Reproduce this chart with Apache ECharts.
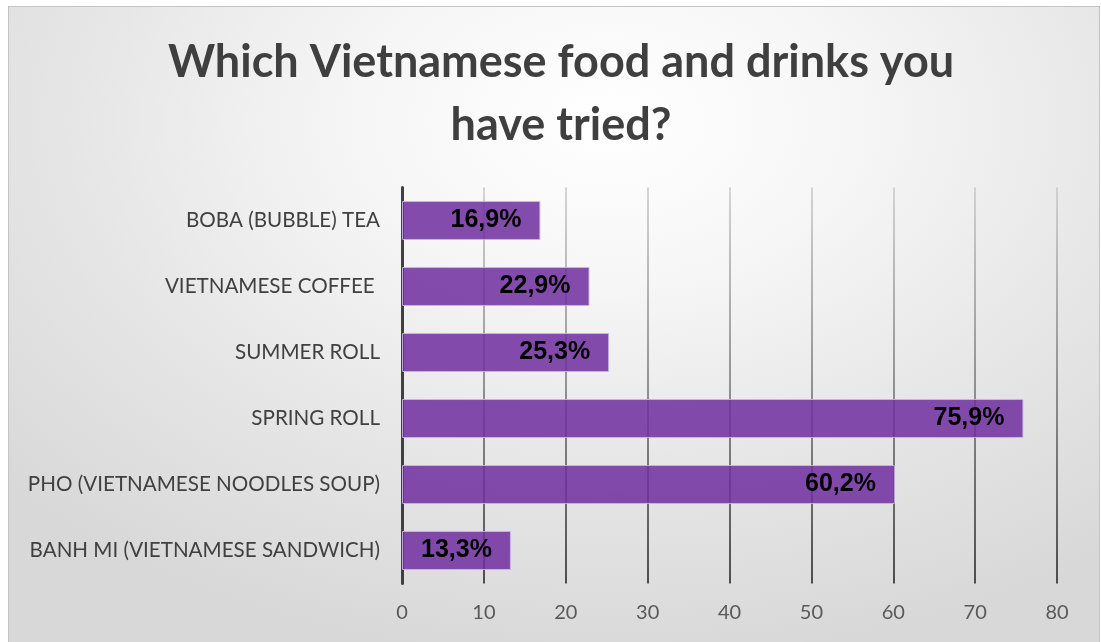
<!DOCTYPE html>
<html>
<head>
<meta charset="utf-8">
<script src="https://cdn.jsdelivr.net/npm/echarts@6/dist/echarts.min.js"></script>
<style>
  html, body { margin: 0; padding: 0; background: #ffffff; width: 1101px; height: 642px; overflow: hidden; }
  #frame {
    position: absolute; left: 8px; top: 6px; width: 1092px; height: 640px;
    border: 1.5px solid #c4c4c4; box-sizing: border-box;
    background: radial-gradient(ellipse 75% 85% at 55% 18%, #ffffff 0%, #f6f6f6 30%, #e6e6e6 65%, #d8d8d8 100%);
  }
  #chart { position: absolute; left: 0; top: 0; width: 1101px; height: 642px; }
</style>
</head>
<body>
<div id="frame"></div>
<div id="chart"></div>
<script>
// Survey answers, listed top to bottom as shown on the chart
const categories = [
  'BOBA (BUBBLE) TEA',
  'VIETNAMESE COFFEE ',
  'SUMMER ROLL',
  'SPRING ROLL',
  'PHO (VIETNAMESE NOODLES SOUP)',
  'BANH MI (VIETNAMESE SANDWICH)'
];
const shares = [16.9, 22.9, 25.3, 75.9, 60.2, 13.3];
const xTicks = [0, 10, 20, 30, 40, 50, 60, 70, 80];

const chart = echarts.init(document.getElementById('chart'), null, { renderer: 'canvas' });

const fmtPercent = v => v.toFixed(1).replace('.', ',') + '%';

chart.setOption({
  backgroundColor: 'transparent',
  animation: false,
  title: {
    text: 'Which Vietnamese food and drinks you\nhave tried?',
    left: 556,
    top: 26,
    textAlign: 'center',
    textStyle: {
      fontFamily: 'Lato',
      fontWeight: 'bold',
      fontSize: 45,
      lineHeight: 63,
      color: '#3f3f3f'
    }
  },
  grid: { left: 402, right: 44, top: 187.5, bottom: 58.5, containLabel: false },
  xAxis: {
    type: 'value',
    min: xTicks[0],
    max: xTicks[xTicks.length - 1],
    interval: 10,
    axisLine: { show: false },
    axisTick: { show: false },
    axisLabel: {
      color: '#595959',
      fontFamily: 'Lato',
      fontSize: 20,
      margin: 19
    },
    splitLine: {
      show: true,
      lineStyle: {
        width: 1.5,
        color: new echarts.graphic.LinearGradient(0, 188, 0, 583, [
          { offset: 0, color: '#c8c8c8' },
          { offset: 1, color: '#1e1e1e' }
        ], true)
      }
    }
  },
  yAxis: {
    type: 'category',
    data: categories,
    inverse: true,
    axisLine: { show: true, lineStyle: { color: '#404040', width: 3 } },
    axisTick: { show: false },
    axisLabel: {
      color: '#404040',
      fontFamily: 'Lato',
      fontSize: 20.6,
      margin: 22
    },
    splitLine: { show: false }
  },
  series: [{
    type: 'bar',
    data: shares,
    barWidth: '59%',
    itemStyle: {
      color: 'rgba(112, 48, 160, 0.86)',
      borderColor: 'rgba(205, 180, 225, 0.9)',
      borderWidth: 1
    },
    label: {
      show: true,
      position: 'insideRight',
      distance: 19,
      formatter: p => fmtPercent(p.value),
      color: '#000000',
      fontFamily: 'Liberation Sans',
      fontWeight: 'bold',
      fontSize: 25
    }
  }]
});
</script>
</body>
</html>
